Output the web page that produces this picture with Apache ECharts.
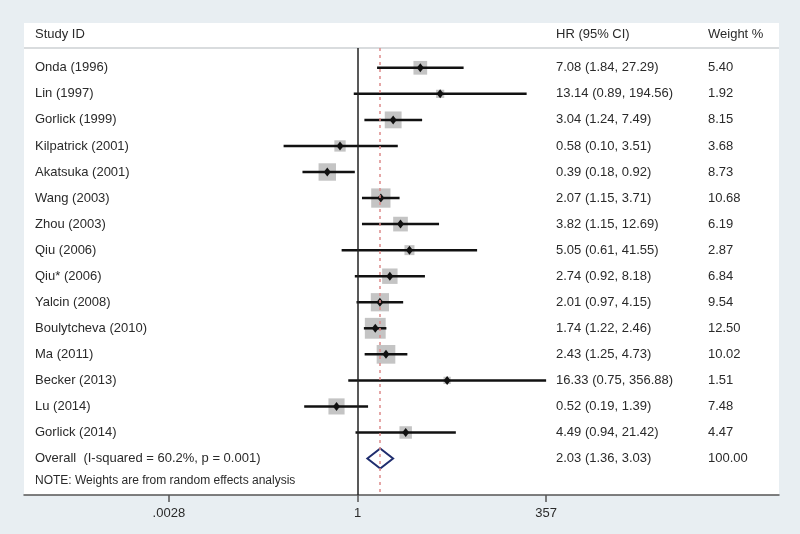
<!DOCTYPE html>
<html>
<head>
<meta charset="utf-8">
<title>Forest plot</title>
<script src="https://cdn.jsdelivr.net/npm/echarts@6.0.0/dist/echarts.min.js"></script>
<style>
    html, body { margin: 0; padding: 0; background: #e8eef2; }
    #chart { width: 800px; height: 534px; }
</style>
</head>
<body>
<div id="chart"></div>
<script>
var studies = ['Onda (1996)', 'Lin (1997)', 'Gorlick (1999)', 'Kilpatrick (2001)', 'Akatsuka (2001)',
    'Wang (2003)', 'Zhou (2003)', 'Qiu (2006)', 'Qiu* (2006)', 'Yalcin (2008)',
    'Boulytcheva (2010)', 'Ma (2011)', 'Becker (2013)', 'Lu (2014)', 'Gorlick (2014)'];
var hr = [7.08, 13.14, 3.04, 0.58, 0.39, 2.07, 3.82, 5.05, 2.74, 2.01, 1.74, 2.43, 16.33, 0.52, 4.49];
var ciLow = [1.84, 0.89, 1.24, 0.10, 0.18, 1.15, 1.15, 0.61, 0.92, 0.97, 1.22, 1.25, 0.75, 0.19, 0.94];
var ciHigh = [27.29, 194.56, 7.49, 3.51, 0.92, 3.71, 12.69, 41.55, 8.18, 4.15, 2.46, 4.73, 356.88, 1.39, 21.42];
var weights = [5.40, 1.92, 8.15, 3.68, 8.73, 10.68, 6.19, 2.87, 6.84, 9.54, 12.50, 10.02, 1.51, 7.48, 4.47];

var overallLabel = 'Overall  (I-squared = 60.2%, p = 0.001)';
var overallHR = 2.03, overallLow = 1.36, overallHigh = 3.03, overallWeight = 100.00;
var noteText = 'NOTE: Weights are from random effects analysis';

var xTicks = [1 / 357, 1, 357];
var xTickLabels = ['.0028', '1', '357'];

var FONT = '"Liberation Sans", Arial, sans-serif';
var TEXT = '#2a2a2a';
// row index range shown in the plot area (rows are 0..15, top to bottom)
var ROW_MIN = -0.76, ROW_MAX = 16.40;

var rowLabels = studies.concat([overallLabel]);
var hrLabels = [], wLabels = [], rows = [];
for (var i = 0; i < studies.length; i++) {
    hrLabels.push(hr[i].toFixed(2) + ' (' + ciLow[i].toFixed(2) + ', ' + ciHigh[i].toFixed(2) + ')');
    wLabels.push(weights[i].toFixed(2));
    rows.push(i);
}
hrLabels.push(overallHR.toFixed(2) + ' (' + overallLow.toFixed(2) + ', ' + overallHigh.toFixed(2) + ')');
wLabels.push(overallWeight.toFixed(2));
rows.push(studies.length);

var studyData = studies.map(function (s, i) {
    return [hr[i], i, ciLow[i], ciHigh[i], weights[i]];
});

function pick(list) {
    return function (v) { return list[Math.round(v)] || ''; };
}

function rowAxis(grid, list) {
    return {
        type: 'value', gridIndex: grid, inverse: true, min: ROW_MIN, max: ROW_MAX,
        axisLine: { show: false }, axisTick: { show: false }, splitLine: { show: false },
        axisLabel: {
            inside: true, margin: grid === 0 ? 11 : 0, customValues: rows,
            formatter: pick(list), color: TEXT, fontSize: 13, fontFamily: FONT
        }
    };
}

var el = document.getElementById('chart');
var myChart = echarts.init(el, null, { renderer: 'canvas' });

var option = {
    animation: false,
    backgroundColor: '#e8eef2',
    graphic: [
        { type: 'rect', z: -10, shape: { x: 24, y: 23, width: 755, height: 472 }, style: { fill: '#ffffff' } },
        { type: 'line', shape: { x1: 24, y1: 48, x2: 779, y2: 48 }, style: { stroke: '#d9dcde', lineWidth: 2 } },
        { type: 'text', x: 35, y: 34, style: { text: 'Study ID', fill: TEXT, font: '13px ' + FONT, verticalAlign: 'middle' } },
        { type: 'text', x: 556, y: 34, style: { text: 'HR (95% CI)', fill: TEXT, font: '13px ' + FONT, verticalAlign: 'middle' } },
        { type: 'text', x: 708, y: 34, style: { text: 'Weight %', fill: TEXT, font: '13px ' + FONT, verticalAlign: 'middle' } },
        { type: 'text', x: 35, y: 481, style: { text: noteText, fill: TEXT, font: '12px ' + FONT, verticalAlign: 'middle' } }
    ],
    grid: [
        { left: 24, right: 21, top: 48, bottom: 39 },
        { left: 556, width: 100, top: 48, bottom: 39 },
        { left: 708, width: 60, top: 48, bottom: 39 }
    ],
    xAxis: [
        {
            type: 'log', gridIndex: 0, min: Math.pow(10, -4.513), max: Math.pow(10, 5.704),
            axisLine: { onZero: false, lineStyle: { color: '#555', width: 1.5 } },
            axisTick: { customValues: xTicks, length: 7, lineStyle: { color: '#555', width: 1.5 } },
            axisLabel: {
                customValues: xTicks, margin: 12, color: TEXT, fontSize: 13, fontFamily: FONT,
                formatter: function (v) {
                    for (var k = 0; k < xTicks.length; k++) {
                        if (Math.abs(v - xTicks[k]) < 1e-6 * Math.max(1, xTicks[k])) {
                            return xTickLabels[k];
                        }
                    }
                    return '';
                }
            },
            splitLine: { show: false }, minorTick: { show: false }
        },
        { type: 'value', gridIndex: 1, show: false },
        { type: 'value', gridIndex: 2, show: false }
    ],
    yAxis: [rowAxis(0, rowLabels), rowAxis(1, hrLabels), rowAxis(2, wLabels)],
    series: [
        {
            type: 'custom',
            xAxisIndex: 0, yAxisIndex: 0,
            encode: { x: [0, 2, 3], y: 1 },
            data: studyData,
            renderItem: function (params, api) {
                var y = api.value(1);
                var c = api.coord([api.value(0), y]);
                var lo = api.coord([api.value(2), y]);
                var hi = api.coord([api.value(3), y]);
                var side = 5.9 * Math.sqrt(api.value(4));
                return {
                    type: 'group',
                    children: [
                        { type: 'rect', shape: { x: c[0] - side / 2, y: c[1] - side / 2, width: side, height: side }, style: { fill: '#c4c4c4' } },
                        { type: 'line', shape: { x1: lo[0], y1: lo[1], x2: hi[0], y2: hi[1] }, style: { stroke: '#111', lineWidth: 2.5 } },
                        { type: 'polygon', shape: { points: [[c[0], c[1] - 4.5], [c[0] + 3.5, c[1]], [c[0], c[1] + 4.5], [c[0] - 3.5, c[1]]] }, style: { fill: '#111' } }
                    ]
                };
            }
        },
        {
            type: 'custom',
            xAxisIndex: 0, yAxisIndex: 0,
            encode: { x: [0, 2, 3], y: 1 },
            data: [[overallHR, studies.length, overallLow, overallHigh]],
            renderItem: function (params, api) {
                var y = api.value(1);
                var c = api.coord([api.value(0), y]);
                var lo = api.coord([api.value(2), y]);
                var hi = api.coord([api.value(3), y]);
                return {
                    type: 'polygon',
                    shape: { points: [[lo[0], c[1]], [c[0], c[1] - 10], [hi[0], c[1]], [c[0], c[1] + 10]] },
                    style: { fill: '#ffffff', stroke: '#1f2d6e', lineWidth: 2 }
                };
            }
        },
        {
            type: 'scatter',
            xAxisIndex: 0, yAxisIndex: 0,
            data: [],
            markLine: {
                silent: true, symbol: 'none', label: { show: false },
                data: [
                    { xAxis: 1, lineStyle: { color: '#222', width: 1.5, type: 'solid' } },
                    { xAxis: overallHR, lineStyle: { color: '#dd8a8a', width: 1.5, type: [3, 4] } }
                ]
            }
        }
    ]
};
myChart.setOption(option);
</script>
</body>
</html>
